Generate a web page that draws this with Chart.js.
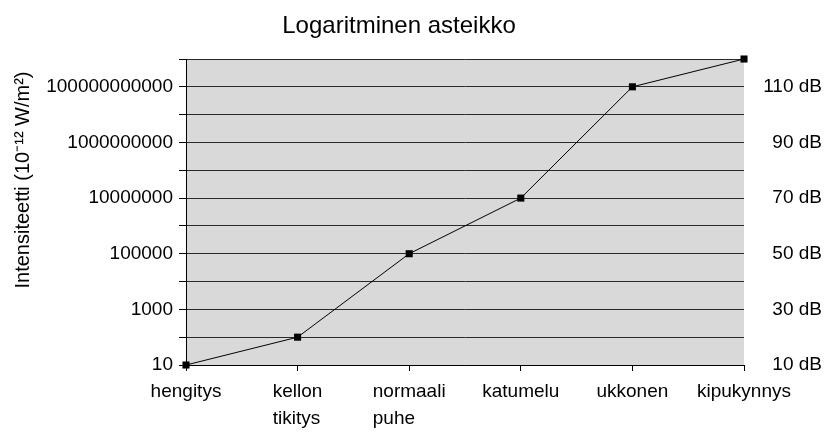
<!DOCTYPE html>
<html>
<head>
<meta charset="utf-8">
<script src="https://cdn.jsdelivr.net/npm/chart.js@4/dist/chart.umd.min.js"></script>
<style>
  body { margin: 0; background: #fff; }
  #wrap { width: 825px; height: 432px; }
</style>
</head>
<body>
<div id="wrap"><canvas id="chart"></canvas></div>
<script>
var categories = [['hengitys'], ['kellon', 'tikitys'], ['normaali', 'puhe'], ['katumelu'], ['ukkonen'], ['kipukynnys']];
var intensity = [10, 100, 100000, 10000000, 100000000000, 1000000000000];
var decades = [1e1, 1e2, 1e3, 1e4, 1e5, 1e6, 1e7, 1e8, 1e9, 1e10, 1e11, 1e12];
var leftLabels = ['10', '', '1000', '', '100000', '', '10000000', '', '1000000000', '', '100000000000', ''];
var rightTicks = [1e1, 1e3, 1e5, 1e7, 1e9, 1e11];
var rightLabels = ['10 dB', '30 dB', '50 dB', '70 dB', '90 dB', '110 dB'];

var FONT = "'Liberation Sans', Arial, sans-serif";

// grey plot background, titles, and left-aligned two-line category labels
var decor = {
    id: 'decor',
    beforeDraw: function (chart) {
        var a = chart.chartArea, ctx = chart.ctx;
        ctx.save();
        ctx.fillStyle = '#d9d9d9';
        ctx.fillRect(a.left, a.top, a.right - a.left, a.bottom - a.top);
        ctx.restore();
    },
    afterDraw: function (chart) {
        var ctx = chart.ctx;
        var xs = chart.scales.x;
        ctx.save();
        ctx.fillStyle = '#000';

        ctx.font = '19px ' + FONT;
        ctx.textAlign = 'left';
        ctx.textBaseline = 'alphabetic';
        categories.forEach(function (lines, i) {
            var px = xs.getPixelForValue(i);
            var w = 0;
            lines.forEach(function (l) { w = Math.max(w, ctx.measureText(l).width); });
            lines.forEach(function (l, j) {
                ctx.fillText(l, px - w / 2, xs.top + 32 + j * 27);
            });
        });

        ctx.font = '24px ' + FONT;
        ctx.textAlign = 'center';
        ctx.fillText('Logaritminen asteikko', 399, 33);

        ctx.font = '20px ' + FONT;
        ctx.translate(23, 180);
        ctx.rotate(-Math.PI / 2);
        ctx.textBaseline = 'middle';
        ctx.fillText('Intensiteetti (10\u207B\u00B9\u00B2 W/m\u00B2)', 0, 0);
        ctx.restore();
    }
};

new Chart(document.getElementById('chart'), {
    type: 'line',
    data: {
        labels: categories,
        datasets: [{
            data: intensity,
            borderColor: '#000',
            borderWidth: 1,
            backgroundColor: '#000',
            pointStyle: 'rect',
            pointRadius: 5,
            pointBorderWidth: 0,
            pointHoverRadius: 5,
            tension: 0,
            clip: false
        }]
    },
    options: {
        responsive: true,
        maintainAspectRatio: false,
        animation: false,
        layout: { padding: { top: 59, right: 3, left: 0, bottom: 0 } },
        plugins: { legend: { display: false }, title: { display: false }, tooltip: { enabled: false } },
        scales: {
            x: {
                type: 'category',
                offset: false,
                grid: { drawOnChartArea: false, drawTicks: true, tickLength: 6, color: '#000' },
                border: { color: '#000' },
                ticks: { color: 'rgba(0,0,0,0)', font: { family: FONT, size: 19, lineHeight: 1.45 }, padding: 4, maxRotation: 0, autoSkip: false },
                afterFit: function (s) { s.height = 67; }
            },
            y: {
                type: 'logarithmic',
                position: 'left',
                min: 10,
                max: 1e12,
                afterBuildTicks: function (s) {
                    s.ticks = decades.map(function (v) { return { value: v }; });
                },
                grid: { color: '#2a2a2a', tickLength: 7, tickColor: '#000' },
                border: { color: '#000' },
                ticks: {
                    color: '#000',
                    font: { family: FONT, size: 19 },
                    padding: 6,
                    autoSkip: false,
                    callback: function (v, i) { return leftLabels[i]; }
                },
                afterFit: function (s) { s.width = 186; }
            },
            y2: {
                type: 'logarithmic',
                position: 'right',
                min: 10,
                max: 1e12,
                afterBuildTicks: function (s) {
                    s.ticks = rightTicks.map(function (v) { return { value: v }; });
                },
                grid: { display: false },
                border: { display: false },
                ticks: {
                    color: '#000',
                    font: { family: FONT, size: 19 },
                    crossAlign: 'far',
                    autoSkip: false,
                    callback: function (v, i) { return rightLabels[i]; }
                },
                afterFit: function (s) { s.width = 78; }
            }
        }
    },
    plugins: [decor]
});
</script>
</body>
</html>
